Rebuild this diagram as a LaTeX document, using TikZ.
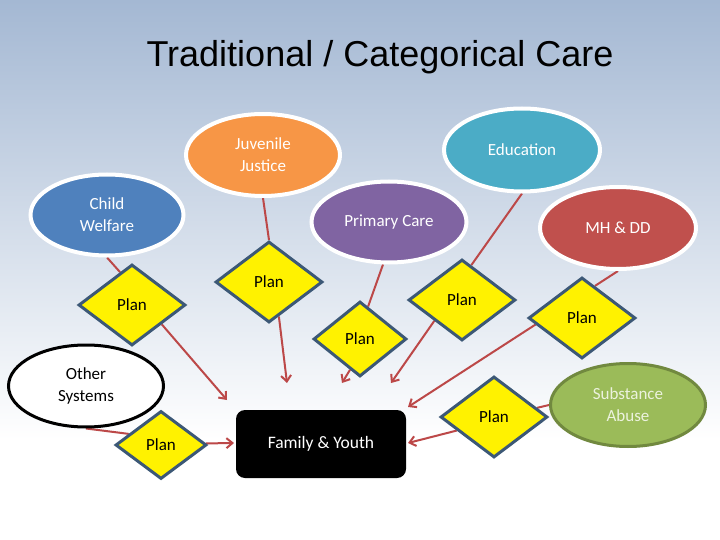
\documentclass[tikz,border=0pt]{standalone}
\usepackage{fontspec}
\setmainfont{Carlito}
\newfontfamily\titlefont{Liberation Sans}
\usetikzlibrary{shapes.geometric,arrows.meta,backgrounds}
\pgfdeclarelayer{back}
\pgfdeclarelayer{mid}
\pgfsetlayers{back,mid,main}
\definecolor{bgtop}{RGB}{164,184,211}
\definecolor{cOrange}{RGB}{247,150,70}
\definecolor{cBlue}{RGB}{79,129,189}
\definecolor{cTeal}{RGB}{75,172,198}
\definecolor{cPurple}{RGB}{128,100,162}
\definecolor{cRed}{RGB}{192,80,77}
\definecolor{cGreen}{RGB}{155,187,89}
\definecolor{cGreenD}{RGB}{113,137,63}
\definecolor{cLine}{RGB}{188,72,72}
\definecolor{cDia}{RGB}{60,88,118}
\definecolor{cSaText}{RGB}{236,242,222}
\tikzset{
  ell/.style={ellipse, draw=white, line width=4pt, minimum width=153pt, minimum height=81pt,
    inner sep=0pt, text=white, align=center, font=\fontsize{17}{22}\selectfont},
  plan/.style={diamond, draw=cDia, line width=3pt, fill=yellow, inner sep=0pt,
    minimum width=107pt, minimum height=81pt, font=\fontsize{17}{20}\selectfont},
  conn/.style={draw=cLine, line width=2pt},
  arr/.style={draw=cLine, line width=2pt, -{Straight Barb[length=6pt,width=10pt]}},
}
\begin{document}
\begin{tikzpicture}[x=1pt,y=-1pt]
\useasboundingbox (0,0) rectangle (720,540);
\begin{pgfonlayer}{back}
  \fill[white] (0,0) rectangle (720,540);
  \shade[top color=bgtop, bottom color=white] (0,0) rectangle (720,440);
\end{pgfonlayer}
\node[font=\titlefont\fontsize{36}{40}\selectfont] (title) at (380,57) {Traditional / Categorical Care};
% ellipses
\node[ell, fill=cOrange, minimum width=154pt, minimum height=82pt] (jj) at (263,155) {Juvenile\\Justice};
\node[ell, fill=cBlue] (cw) at (107,215) {Child\\Welfare};
\node[ell, fill=cTeal, minimum width=156pt, minimum height=83pt] (ed) at (522,150) {Education};
\node[ell, fill=cPurple, minimum width=155pt] (pc) at (389,222) {Primary Care};
\node[ell, fill=cRed, minimum width=156pt, minimum height=82pt] (mh) at (618,228) {MH \& DD};
\node[ell, fill=white, draw=black, line width=3pt, text=black, minimum width=155pt, minimum height=82pt] (os) at (86,386) {Other\\Systems};
\node[ell, fill=cGreen, draw=cGreenD, line width=3pt, text=cSaText, minimum width=155pt, minimum height=83pt] (sa) at (628,405) {Substance\\Abuse};
% diamonds
\node[plan] (p1) at (132,305) {Plan};
\node[plan] (p2) at (269,282) {Plan};
\node[plan] (p3) at (462,300) {Plan};
\node[plan] (p4) at (582,318) {Plan};
\node[plan, minimum width=93pt, minimum height=75pt] (p5) at (360,339) {Plan};
\node[plan, minimum width=91pt, minimum height=68pt] (p6) at (161,445) {Plan};
\node[plan] (p7) at (494,417) {Plan};
% family
\node[fill=black, rounded corners=9pt, minimum width=170pt, minimum height=68pt, text=white,
  font=\fontsize{17.5}{20}\selectfont] (fy) at (321,444) {Family \& Youth};
% arrow end points
\coordinate (t1) at (227,400);
\coordinate (t2) at (287,383);
\coordinate (t3) at (391,383);
\coordinate (t4) at (342,383);
\coordinate (t5) at (408,407);
\coordinate (t6) at (234,443);
\coordinate (t7) at (408,443);
\begin{pgfonlayer}{mid}
  \draw[conn] (cw.south) -- (p1.110);
  \draw[conn] (jj.south) -- (p2.north);
  \draw[conn] (ed.south) -- (p3.75);
  \draw[conn] (pc.-98) -- (p5.76);
  \draw[conn] (mh.south) -- (p4.68);
  \draw[conn] (os.south) -- (p6.161);
  \draw[conn] (sa.west) -- (p7.12);
  \draw[arr] (p1.-33) -- (t1);
  \draw[arr] (p2.-74) -- (t2);
  \draw[arr] (p3.-143) -- (t3);
  \draw[arr] (p5.-108) -- (t4);
  \draw[arr] (p4.-172) -- (t5);
  \draw[arr] (p6.2) -- (t6);
  \draw[arr] (p7.-160) -- (t7);
\end{pgfonlayer}
\end{tikzpicture}
\end{document}
